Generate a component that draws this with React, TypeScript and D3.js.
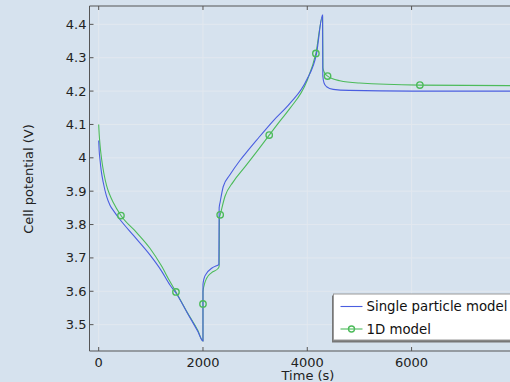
import * as d3 from "d3";

// chart size
const width = 510;
const height = 382;
const margin = { top: 6, right: -10, bottom: 31, left: 89.5 };

// Single particle model (time in s, cell potential in V)
const spmTime = [0, 10, 25, 50, 88, 150, 217, 300, 408, 663, 983, 1200, 1367, 1482, 1700, 1900, 2000,
    2000, 2020, 2070, 2166, 2293, 2305, 2310, 2330, 2389, 2517, 2708, 2868, 3028,
    3347, 3667, 3987, 4178, 4293, 4298, 4320, 4370, 4497, 4800, 6000, 8100];
const spmVoltage = [4.052, 4.02, 3.995, 3.96, 3.926, 3.885, 3.858, 3.838, 3.815, 3.768, 3.709, 3.662, 3.619, 3.595, 3.535, 3.48, 3.451,
    3.62, 3.638, 3.654, 3.669, 3.679, 3.68, 3.85, 3.868, 3.914, 3.949, 3.992, 4.023, 4.053,
    4.111, 4.163, 4.233, 4.313, 4.428, 4.245, 4.225, 4.213, 4.205, 4.202, 4.2, 4.2];

// 1D model
const oneDTime = [0, 10, 25, 57, 100, 153, 210, 280, 427, 728, 983, 1200, 1367, 1482, 1700, 1900, 2000,
    2000, 2000, 2035, 2070, 2166, 2293, 2310, 2315, 2330, 2421, 2580, 2804, 3028,
    3270, 3475, 3667, 3987, 4165, 4293, 4300, 4330, 4389, 4625, 5000, 6159, 8100];
const oneDVoltage = [4.1, 4.07, 4.04, 3.995, 3.953, 3.916, 3.89, 3.866, 3.827, 3.776, 3.729, 3.677, 3.629, 3.598, 3.536, 3.483, 3.451,
    3.562, 3.599, 3.625, 3.639, 3.656, 3.669, 3.675, 3.82, 3.829, 3.884, 3.928, 3.973, 4.018,
    4.068, 4.11, 4.148, 4.228, 4.313, 4.423, 4.27, 4.255, 4.245, 4.231, 4.224, 4.218, 4.216];

// points of the 1D model that carry a marker
const oneDMarkerTime = [427, 1482, 2000, 2330, 3270, 4165, 4389, 6159];
const oneDMarkerVoltage = [3.827, 3.598, 3.562, 3.829, 4.068, 4.313, 4.245, 4.218];

const xTicks = [0, 2000, 4000, 6000];
const yTicks = [3.5, 3.6, 3.7, 3.8, 3.9, 4.0, 4.1, 4.2, 4.3, 4.4];

const legendLabels = ["Single particle model", "1D model"];

const blue = "#4a5ee0";
const green = "#4cbb5a";
const font = "'DejaVu Sans', sans-serif";

export default function App() {
    const left = margin.left;
    const right = width - margin.right;
    const top = margin.top;
    const bottom = height - margin.bottom;

    const x = d3.scaleLinear().domain([-176, 8079]).range([left, right]);
    const y = d3.scaleLinear().domain([3.421, 4.455]).range([bottom, top]);

    const line = d3.line<[number, number]>()
        .x(d => x(d[0]))
        .y(d => y(d[1]))
        .curve(d3.curveMonotoneX);

    const spm: [number, number][] = spmTime.map((t, i) => [t, spmVoltage[i]]);
    const oneD: [number, number][] = oneDTime.map((t, i) => [t, oneDVoltage[i]]);
    const markers: [number, number][] = oneDMarkerTime.map((t, i) => [t, oneDMarkerVoltage[i]]);

    const lx = 333.5;
    const ly = 294;

    return (
        <svg width={width} height={height}
            style={{ position: "absolute", left: 0, top: 0, background: "#d6e2ee" }}
            fontFamily={font}>
            <defs>
                <clipPath id="plot-clip">
                    <rect x={left} y={top} width={right - left} height={bottom - top} />
                </clipPath>
            </defs>

            {/* grid */}
            <g stroke="#e2e8ef" strokeWidth={1}>
                {xTicks.map(t => (
                    <line key={t} x1={x(t)} x2={x(t)} y1={top} y2={bottom} />
                ))}
                {yTicks.map(v => (
                    <line key={v} x1={left} x2={right} y1={y(v)} y2={y(v)} />
                ))}
            </g>

            {/* curves */}
            <g clipPath="url(#plot-clip)" fill="none" strokeWidth={1.1}>
                <path d={line(oneD) ?? ""} stroke={green} />
                <path d={line(spm) ?? ""} stroke={blue} />
                {markers.map((d, i) => (
                    <circle key={i} cx={x(d[0])} cy={y(d[1])} r={3.2}
                        stroke={green} strokeWidth={1.4} fill="none" />
                ))}
            </g>

            {/* frame */}
            <g stroke="#555" strokeWidth={1} fill="none">
                <line x1={left} x2={left} y1={top} y2={bottom} />
                <line x1={left} x2={right} y1={bottom} y2={bottom} />
                <line x1={left} x2={right} y1={top} y2={top} />
                {xTicks.map(t => (
                    <g key={t}>
                        <line x1={x(t)} x2={x(t)} y1={bottom} y2={bottom - 4} />
                        <line x1={x(t)} x2={x(t)} y1={top} y2={top + 4} />
                    </g>
                ))}
                {yTicks.map(v => (
                    <line key={v} x1={left} x2={left + 4} y1={y(v)} y2={y(v)} />
                ))}
            </g>

            {/* tick labels */}
            <g fontSize={13} fill="#222">
                {xTicks.map(t => (
                    <text key={t} x={x(t)} y={bottom + 16} textAnchor="middle">{t}</text>
                ))}
                {yTicks.map(v => (
                    <text key={v} x={left - 3} y={y(v) + 4.5} textAnchor="end">{d3.format("~g")(v)}</text>
                ))}
            </g>

            {/* axis titles */}
            <text x={308} y={379.5} textAnchor="middle" fontSize={13} fill="#222">Time (s)</text>
            <text transform={`translate(33,179) rotate(-90)`} textAnchor="middle" fontSize={13} fill="#222">
                Cell potential (V)
            </text>

            {/* legend */}
            <g>
                <rect x={lx - 1.5} y={ly + 1.5} width={200} height={47} fill="#777" />
                <rect x={lx} y={ly} width={200} height={46} fill="#fff" stroke="#999" strokeWidth={1} />
                <line x1={lx + 7} x2={lx + 29} y1={ly + 12.5} y2={ly + 12.5} stroke={blue} strokeWidth={1.1} />
                <line x1={lx + 7} x2={lx + 29} y1={ly + 35} y2={ly + 35} stroke={green} strokeWidth={1.1} />
                <circle cx={lx + 18} cy={ly + 35} r={3} stroke={green} strokeWidth={1.4} fill="none" />
                <text x={lx + 33} y={ly + 17} fontSize={13.3} fill="#111">{legendLabels[0]}</text>
                <text x={lx + 33} y={ly + 39.5} fontSize={13.3} fill="#111">{legendLabels[1]}</text>
            </g>
        </svg>
    );
}
